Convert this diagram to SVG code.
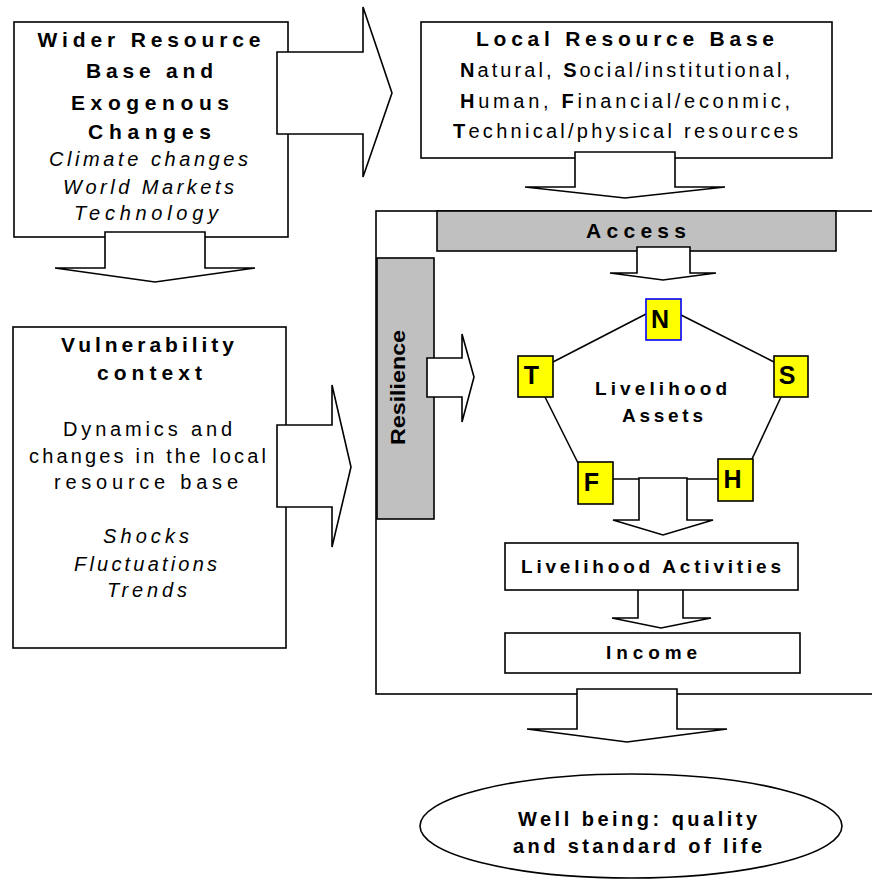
<svg xmlns="http://www.w3.org/2000/svg" width="872" height="880" viewBox="0 0 872 880">
<style>
text{font-family:"Liberation Sans",Arial,sans-serif;font-size:20px;fill:#000;text-anchor:middle}
.b{font-weight:bold}
.h{font-weight:bold;font-size:21px}
.i{font-style:italic}
.s19{font-size:19px}
.s20{font-size:20px}
.box{fill:#fff;stroke:#000;stroke-width:1.6}
.gray{fill:#c0c0c0;stroke:#000;stroke-width:1.6}
.asset{fill:#ffff00;stroke:#000;stroke-width:1.6}
.arrow{fill:#fff;stroke:#000;stroke-width:1.6;stroke-linejoin:miter}
.link{stroke:#000;stroke-width:1.6;fill:none}
.let{font-weight:bold;font-size:25px}
</style>
<rect width="872" height="880" fill="#fff"/>
<g id="container"><rect class="box" x="376" y="211" width="510" height="483"/></g>
<g id="wider">
<rect class="box" x="14" y="22" width="274" height="215"/>
<text class="h" x="149" y="47" textLength="223">Wider Resource</text>
<text class="h" x="149.5" y="78" textLength="127">Base and</text>
<text class="h" x="150" y="110" textLength="158">Exogenous</text>
<text class="h" x="149.5" y="139" textLength="123">Changes</text>
<text class="i" x="148.5" y="166" textLength="199">Climate changes</text>
<text class="i" x="148.5" y="194" textLength="171">World Markets</text>
<text class="i" x="146" y="220" textLength="144">Technology</text>
</g>
<g id="local">
<rect class="box" x="421" y="22" width="411" height="136"/>
<text class="h" x="625" y="46" textLength="298">Local Resource Base</text>
<text x="625" y="77" textLength="330"><tspan class="b">N</tspan>atural, <tspan class="b">S</tspan>ocial/institutional,</text>
<text x="625" y="108" textLength="330"><tspan class="b">H</tspan>uman, <tspan class="b">F</tspan>inancial/econmic,</text>
<text x="625.5" y="138" textLength="345"><tspan class="b">T</tspan>echnical/physical resources</text>
</g>
<g id="vulnerability">
<rect class="box" x="13" y="327" width="273" height="321"/>
<text class="h" x="147.5" y="352" textLength="173">Vulnerability</text>
<text class="h" x="149.5" y="380" textLength="105">context</text>
<text x="147.5" y="436" textLength="169">Dynamics and</text>
<text x="147.5" y="463" textLength="237">changes in the local</text>
<text x="146" y="489" textLength="184">resource base</text>
<text class="i" x="146" y="543" textLength="86">Shocks</text>
<text class="i" x="145.5" y="571" textLength="143">Fluctuations</text>
<text class="i" x="147" y="597" textLength="80">Trends</text>
</g>
<g id="access">
<rect class="gray" x="437" y="211" width="399" height="40"/>
<text class="h" x="636" y="238" textLength="100">Access</text>
</g>
<g id="resilience">
<rect class="gray" x="377" y="258" width="57" height="261"/>
<text class="b" transform="translate(404.5 387.5) rotate(-90)" x="0" y="0" font-size="18" textLength="115" lengthAdjust="spacingAndGlyphs">Resilience</text>
</g>
<g id="connectors">
<line class="link" x1="646" y1="314" x2="553" y2="362"/>
<line class="link" x1="681" y1="315" x2="774" y2="362"/>
<line class="link" x1="545" y1="397" x2="578" y2="463"/>
<line class="link" x1="781" y1="397" x2="752" y2="459"/>
<line class="link" x1="613" y1="479" x2="718" y2="479"/>
<polygon class="arrow" points="277,52 363,52 363,7 392,93 363,177 363,134 277,134"/>
<polygon class="arrow" points="105,232 205,232 205,268 255,268 155,282 55,268 105,268"/>
<polygon class="arrow" points="575,152 675,152 675,187 725,187 625,198 525,187 575,187"/>
<polygon class="arrow" points="637,247 690,247 690,273 716,273 663,280 610,273 637,273"/>
<polygon class="arrow" points="277,425 332,425 332,385 351,467 332,547 332,507 277,507"/>
<polygon class="arrow" points="427,358 462,358 462,334 474,377 462,422 462,397 427,397"/>
<polygon class="arrow" points="639,478 687,478 687,520 713,520 663,535 613,520 639,520"/>
<polygon class="arrow" points="638,588 683,588 683,618 711,618 661,628 612,618 638,618"/>
<polygon class="arrow" points="577,689 677,689 677,729 727,729 627,742 527,729 577,729"/>
</g>
<g id="asset-N">
<rect class="asset" x="646" y="299" width="35" height="41" style="stroke:#0000ff"/>
<text class="let" x="660" y="328">N</text>
</g>
<g id="asset-T">
<rect class="asset" x="518" y="356" width="35" height="41"/>
<text class="let" x="531.5" y="384">T</text>
</g>
<g id="asset-S">
<rect class="asset" x="774" y="356" width="34" height="41"/>
<text class="let" x="787" y="384">S</text>
</g>
<g id="asset-F">
<rect class="asset" x="578" y="462" width="35" height="42"/>
<text class="let" x="591.5" y="491">F</text>
</g>
<g id="asset-H">
<rect class="asset" x="718" y="459" width="35" height="42"/>
<text class="let" x="732.5" y="488">H</text>
</g>
<g id="assets-label">
<text class="b s19" x="661" y="395" textLength="132">Livelihood</text>
<text class="b s19" x="662.5" y="422" textLength="81">Assets</text>
</g>
<g id="activities">
<rect class="box" x="505" y="543" width="293" height="47"/>
<text class="b s19" x="651" y="573" textLength="260">Livelihood Activities</text>
</g>
<g id="income">
<rect class="box" x="505" y="633" width="295" height="40"/>
<text class="b s19" x="651.5" y="659" textLength="91">Income</text>
</g>
<g id="wellbeing">
<ellipse class="box" cx="631" cy="826" rx="211" ry="52"/>
<text class="b s20" x="637.5" y="826" textLength="239">Well being: quality</text>
<text class="b s20" x="637.5" y="853" textLength="249">and standard of life</text>
</g>
</svg>
